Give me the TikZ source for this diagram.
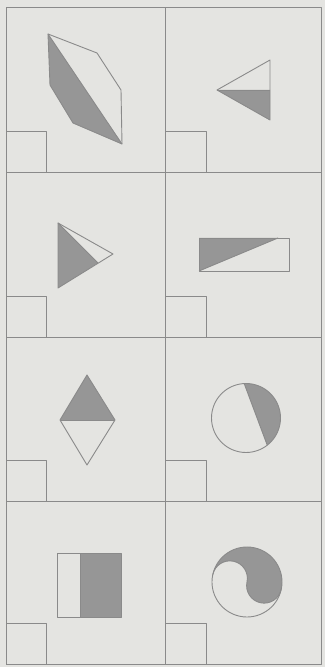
\documentclass[tikz,border=0pt]{standalone}
\usetikzlibrary{calc}
\definecolor{paper}{HTML}{E4E4E1}
\definecolor{ink}{HTML}{8A8A8A}
\definecolor{shade}{HTML}{969696}
\begin{document}
\begin{tikzpicture}[x=1pt,y=1pt,line join=round,
  grid/.style={draw=ink,line width=1pt},
  fig/.style={draw=ink,line width=0.9pt},
  shd/.style={fill=shade}]
\fill[paper] (0,0) rectangle (325,667);
\useasboundingbox (0,0) rectangle (325,667);
% grid
\draw[grid] (6,2) rectangle (321,659);
\draw[grid] (165,2) -- (165,659);
\foreach \yy in {494,329,165} \draw[grid] (6,\yy) -- (321,\yy);
% small squares
\foreach \yy in {494,329,165,2}{
  \draw[grid] (6,\yy) rectangle (46,\yy+41);
  \draw[grid] (165,\yy) rectangle (206,\yy+41);
}
% cell 1: hexagon
\fill[shd] (48,633) -- (50,582) -- (73,544) -- (122,523) -- cycle;
\draw[fig] (48,633) -- (97,614) -- (121,577) -- (122,523) -- (73,544) -- (50,582) -- cycle;
\draw[fig] (48,633) -- (122,523);
% cell 2: triangle
\fill[shd] (217,577) -- (270,577) -- (270,547) -- cycle;
\draw[fig] (217,577) -- (270,607) -- (270,547) -- cycle;
\draw[fig] (217,577) -- (270,577);
% cell 3: triangle
\fill[shd] (58,444) -- (98,404) -- (58,379) -- cycle;
\draw[fig] (58,444) -- (113,413) -- (58,379) -- cycle;
\draw[fig] (58,444) -- (98,404);
% cell 4: rectangle
\fill[shd] (199,429) -- (278,429) -- (199,396) -- cycle;
\draw[fig] (199,396) rectangle (289,429);
\draw[fig] (199,396) -- (278,429);
% cell 5: rhombus
\fill[shd] (87,292) -- (60,247) -- (115,247) -- cycle;
\draw[fig] (87,292) -- (115,247) -- (87,202) -- (60,247) -- cycle;
\draw[fig] (60,247) -- (115,247);
% cell 6: circle with chord
\coordinate (c6) at (246,249);
\fill[shd] (c6) ++(93:34.5) arc[start angle=93,end angle=-52,radius=34.5] -- cycle;
\draw[fig] (c6) circle[radius=34.5];
\draw[fig] ($(c6)+(93:34.5)$) -- ($(c6)+(-52:34.5)$);
% cell 7: square
\fill[shd] (80,50) rectangle (121,114);
\draw[fig] (57,50) rectangle (121,114);
\draw[fig] (80,50) -- (80,114);
% cell 8: yin-yang
\begin{scope}[shift={(247,85)},rotate=-12]
\fill[shd] (35,0) arc[start angle=0,end angle=180,radius=35]
  arc[start angle=180,end angle=0,radius=17.5]
  arc[start angle=180,end angle=360,radius=17.5] -- cycle;
\draw[fig] (0,0) circle[radius=35];
\draw[fig] (-35,0) arc[start angle=180,end angle=0,radius=17.5]
  arc[start angle=180,end angle=360,radius=17.5];
\end{scope}
\end{tikzpicture}
\end{document}
